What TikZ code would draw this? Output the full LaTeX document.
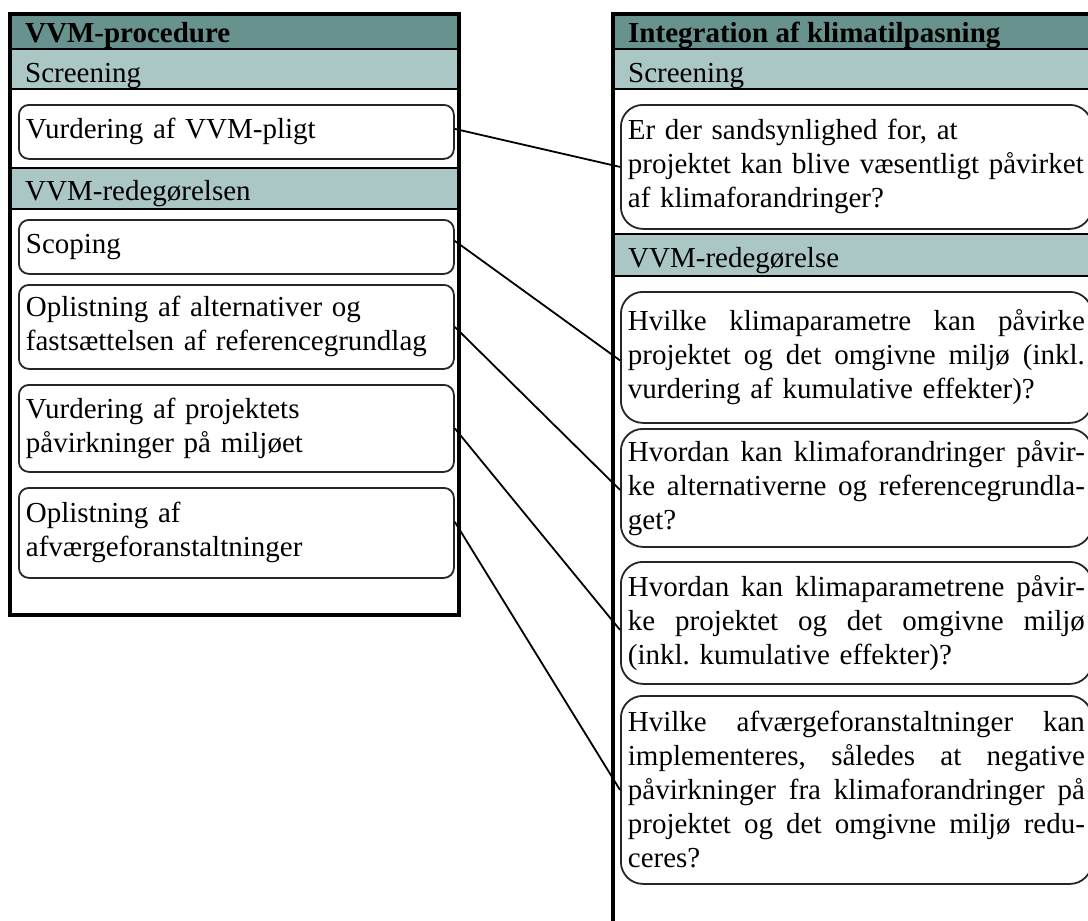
\documentclass[tikz,border=0pt]{standalone}
\usepackage{fontspec}
\setmainfont{Liberation Serif}
\definecolor{headdark}{RGB}{103,146,142}
\definecolor{bandlight}{RGB}{170,198,197}
% one justified line of a question box: spaces share the spare width
\newcommand\jline[1]{\leavevmode\hbox to 457pt{\spaceskip=0.25em plus 1fil\relax #1}}
\begin{document}
\frenchspacing
\begin{tikzpicture}[x=1pt,y=-1pt,
  every node/.style={font=\fontsize{29}{34}\selectfont},
  panel/.style={draw=black,line width=3.2pt},
  bandrule/.style={draw=black,line width=2.6pt},
  headtext/.style={anchor=base west,inner sep=0pt,font=\fontsize{29}{34}\selectfont\bfseries},
  bandtext/.style={anchor=base west,inner sep=0pt},
  leftbox/.style={draw=black!85,line width=1.8pt,rounded corners=10pt,anchor=north west,
    text width=421pt,inner xsep=7pt,inner ysep=2pt,minimum width=435pt,align=left},
  rightbox/.style={draw=black!85,line width=1.8pt,rounded corners=22pt,anchor=north west,
    text width=457pt,inner xsep=7pt,inner ysep=2pt,minimum width=471pt,align=left},
  link/.style={draw=black,line width=1.8pt}]
\useasboundingbox (0,0) rectangle (1088,921);
\clip (0,0) rectangle (1088,921);

% ---- left panel: VVM-procedure ----
\fill[headdark] (10,14) rectangle (459,49);
\fill[bandlight] (10,49) rectangle (459,89);
\fill[bandlight] (10,168) rectangle (459,209);
\draw[bandrule] (10,49) -- (459,49);
\draw[bandrule] (10,89) -- (459,89);
\draw[bandrule] (10,168) -- (459,168);
\draw[bandrule] (10,209) -- (459,209);
\draw[panel] (10,14) rectangle (459,615);

\node[headtext] (lhead) at (25,42) {VVM-procedure};
\node[bandtext] (lscr) at (25,82) {Screening};
\node[bandtext] (lred) at (25,200) {VVM-redegørelsen};

\node[leftbox,minimum height=54pt] (l1) at (18,104) {Vurdering af VVM-pligt};
\node[leftbox,minimum height=54pt] (l2) at (18,219) {Scoping};
\node[leftbox,minimum height=84pt] (l3) at (18,284) {Oplistning af alternativer og\\fastsættelsen af referencegrundlag};
\node[leftbox,minimum height=87pt] (l4) at (18,384) {Vurdering af projektets\\påvirkninger på miljøet};
\node[leftbox,minimum height=90pt] (l5) at (18,487) {Oplistning af\\afværgeforanstaltninger};

% ---- right panel: Integration af klimatilpasning ----
\fill[headdark] (613,14) rectangle (1120,49);
\fill[bandlight] (613,49) rectangle (1120,89);
\fill[bandlight] (613,234) rectangle (1120,276);
\draw[bandrule] (613,49) -- (1120,49);
\draw[bandrule] (613,89) -- (1120,89);
\draw[bandrule] (613,234) -- (1120,234);
\draw[bandrule] (613,276) -- (1120,276);
\draw[panel] (613,14) rectangle (1120,980);

\node[headtext] (rhead) at (628,42) {Integration af klimatilpasning};
\node[bandtext] (rscr) at (628,82) {Screening};
\node[bandtext] (rred) at (628,267) {VVM-redegørelse};

\node[rightbox,minimum height=124pt] (r1) at (620,104)
  {Er der sandsynlighed for, at\\\mbox{projektet kan blive væsentligt påvirket}\\af klimaforandringer?};
\node[rightbox,minimum height=131pt] (r2) at (620,291)
  {\jline{Hvilke klimaparametre kan påvirke}\\\jline{projektet og det omgivne miljø (inkl.}\\vurdering af kumulative effekter)?};
\node[rightbox,minimum height=118pt] (r3) at (620,428)
  {\jline{Hvordan kan klimaforandringer påvir-}\\\jline{ke alternativerne og referencegrundla-}\\get?};
\node[rightbox,minimum height=122pt] (r4) at (620,561)
  {\jline{Hvordan kan klimaparametrene påvir-}\\\jline{ke projektet og det omgivne miljø}\\(inkl. kumulative effekter)?};
\node[rightbox,minimum height=188pt] (r5) at (620,695)
  {\jline{Hvilke afværgeforanstaltninger kan}\\\jline{implementeres, således at negative}\\\jline{påvirkninger fra klimaforandringer på}\\\jline{projektet og det omgivne miljø redu-}\\ceres?};

% ---- links between the two procedures ----
\draw[link] ([yshift=3pt]l1.east) -- (r1.west);
\draw[link] ([yshift=6pt]l2.east) -- ([yshift=-3pt]r2.west);
\draw[link] (l3.east) -- ([yshift=-2pt]r3.west);
\draw[link] (l4.east) -- ([yshift=-7pt]r4.west);
\draw[link] ([yshift=11pt]l5.east) -- (r5.west);
\end{tikzpicture}
\end{document}
